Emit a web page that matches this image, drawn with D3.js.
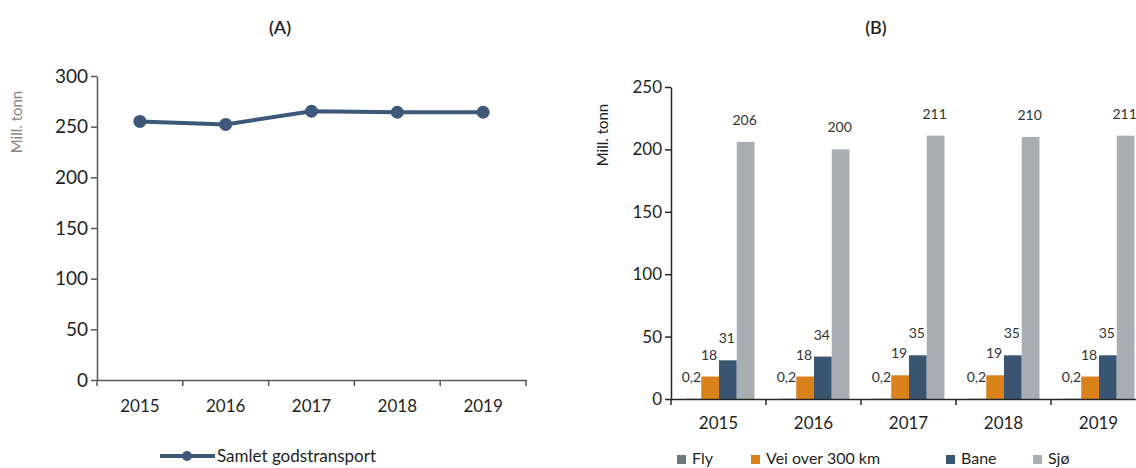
<!DOCTYPE html>
<html>
<head>
<meta charset="utf-8">
<script src="https://cdn.jsdelivr.net/npm/d3@7"></script>
<style>
  body { margin: 0; background: #fff; }
  svg { display: block; font-family: Lato, "Open Sans", sans-serif; }
</style>
</head>
<body>
<svg width="1136" height="468"></svg>
<script>
const years = ['2015', '2016', '2017', '2018', '2019'];

// panel A
const totalValues = [255.2, 252.2, 265.2, 264.2, 264.2];
const ticksA = [0, 50, 100, 150, 200, 250, 300];

// panel B
const seriesNames = ['Fly', 'Vei over 300 km', 'Bane', 'Sjø'];
const flyValues = [0.2, 0.2, 0.2, 0.2, 0.2];
const veiValues = [18, 18, 19, 19, 18];
const baneValues = [31, 34, 35, 35, 35];
const sjoValues = [206, 200, 211, 210, 211];
const ticksB = [0, 50, 100, 150, 200, 250];

const seriesColors = ['#6f767d', '#d9821c', '#3a5572', '#a9aeb4'];
const lineColor = '#3d5878';
const textColor = '#1f1f1f';

const svg = d3.select('svg');

const nb = d3.formatLocale({ decimal: ',', thousands: ' ', grouping: [3], currency: ['', ' kr'] });
const fmtVal = (v) => Number.isInteger(v) ? String(v) : nb.format('.1f')(v);

// ---------- panel A ----------
let xA = d3.scaleBand().domain(years).range([97, 526]);
let yA = d3.scaleLinear().domain([0, 300]).range([380, 76]);

svg.append('text')
  .attr('x', 280).attr('y', 34)
  .attr('text-anchor', 'middle')
  .attr('font-size', 18)
  .attr('font-weight', 600)
  .attr('fill', textColor)
  .text('(A)');

let yAxisA = svg.append('g')
  .attr('transform', 'translate(97,0)')
  .call(d3.axisLeft(yA).tickValues(ticksA).tickSize(6).tickSizeOuter(0));

let xAxisA = svg.append('g')
  .attr('transform', 'translate(0,380)')
  .call(d3.axisBottom(xA).tickSize(0).tickPadding(20));

// tick marks between categories
svg.append('g')
  .selectAll('line')
  .data(years.concat(['end']))
  .enter()
  .append('line')
  .attr('x1', (d, i) => i < years.length ? xA(d) : xA.range()[1])
  .attr('x2', (d, i) => i < years.length ? xA(d) : xA.range()[1])
  .attr('y1', 380).attr('y2', 386)
  .attr('stroke', '#595959').attr('stroke-width', 1.5);

svg.append('text')
  .attr('transform', 'translate(22,122) rotate(-90)')
  .attr('text-anchor', 'middle')
  .attr('font-size', 15)
  .attr('fill', '#8c8682')
  .text('Mill. tonn');

let line = d3.line()
  .x((d, i) => xA(years[i]) + xA.bandwidth() / 2)
  .y((d) => yA(d));

svg.append('path')
  .datum(totalValues)
  .attr('d', line)
  .attr('fill', 'none')
  .attr('stroke', lineColor)
  .attr('stroke-width', 4);

svg.append('g')
  .selectAll('circle')
  .data(totalValues)
  .enter()
  .append('circle')
  .attr('cx', (d, i) => xA(years[i]) + xA.bandwidth() / 2)
  .attr('cy', (d) => yA(d))
  .attr('r', 6.5)
  .attr('fill', lineColor);

// legend A
let legA = svg.append('g').attr('transform', 'translate(160,456)');
legA.append('line').attr('x1', 0).attr('x2', 55).attr('y1', 0).attr('y2', 0)
  .attr('stroke', lineColor).attr('stroke-width', 4);
legA.append('circle').attr('cx', 27).attr('cy', 0).attr('r', 5).attr('fill', lineColor);
legA.append('text').attr('x', 57).attr('y', 6)
  .attr('font-size', 17).attr('fill', textColor)
  .text('Samlet godstransport');

// ---------- panel B ----------
const seriesData = [flyValues, veiValues, baneValues, sjoValues];

let xB = d3.scaleBand().domain(years).range([671, 671 + 5 * 95]);
let xInner = d3.scaleBand().domain(seriesNames).range([12.5, 83.5]);
let yB = d3.scaleLinear().domain([0, 250]).range([399, 87]);

svg.append('text')
  .attr('x', 876).attr('y', 34)
  .attr('text-anchor', 'middle')
  .attr('font-size', 18)
  .attr('font-weight', 600)
  .attr('fill', textColor)
  .text('(B)');

svg.append('text')
  .attr('transform', 'translate(608,135) rotate(-90)')
  .attr('text-anchor', 'middle')
  .attr('font-size', 15)
  .attr('fill', textColor)
  .text('Mill. tonn');

let groups = svg.append('g')
  .selectAll('g')
  .data(seriesData)
  .enter()
  .append('g')
  .attr('fill', (d, i) => seriesColors[i]);

groups.each(function (vals, si) {
  d3.select(this)
    .selectAll('rect')
    .data(vals)
    .enter()
    .append('rect')
    .attr('x', (d, i) => xB(years[i]) + xInner(seriesNames[si]))
    .attr('y', (d) => yB(d))
    .attr('width', xInner.bandwidth())
    .attr('height', (d) => yB(0) - yB(d));
});

let yAxisB = svg.append('g')
  .attr('transform', 'translate(671,0)')
  .call(d3.axisLeft(yB).tickValues(ticksB).tickSize(6).tickSizeOuter(0));

let xAxisB = svg.append('g')
  .attr('transform', 'translate(0,399)')
  .call(d3.axisBottom(xB).tickSize(0).tickPadding(18));

svg.append('g')
  .selectAll('line')
  .data(years)
  .enter()
  .append('line')
  .attr('x1', (d) => xB(d))
  .attr('x2', (d) => xB(d))
  .attr('y1', 399).attr('y2', 405)
  .attr('stroke', '#262626').attr('stroke-width', 1.5);

// value labels
seriesData.forEach((vals, si) => {
  svg.append('g')
    .selectAll('text')
    .data(vals)
    .enter()
    .append('text')
    .attr('x', (d, i) => xB(years[i]) + xInner(seriesNames[si]) + xInner.bandwidth() / 2 - 1)
    .attr('y', (d) => yB(d) - 17)
    .attr('text-anchor', 'middle')
    .attr('font-size', 14)
    .attr('fill', '#333')
    .text((d) => fmtVal(d));
});

// legend B
const legX = [677, 751, 946, 1033];
let legB = svg.append('g')
  .selectAll('g')
  .data(seriesNames)
  .enter()
  .append('g')
  .attr('transform', (d, i) => `translate(${legX[i]},455)`);
legB.append('rect').attr('width', 9).attr('height', 9)
  .attr('fill', (d, i) => seriesColors[i]);
legB.append('text').attr('x', 15).attr('y', 9)
  .attr('font-size', 16).attr('fill', textColor)
  .text((d) => d);

// axis styling
[yAxisA, xAxisA, yAxisB, xAxisB].forEach((ax) => {
  ax.selectAll('text').attr('font-size', 17).attr('fill', textColor).attr('font-family', 'Lato, sans-serif');
  ax.select('.domain').attr('stroke', '#595959').attr('stroke-width', 1.5);
  ax.selectAll('.tick line').attr('stroke', '#595959').attr('stroke-width', 1.5);
});
[yAxisB, xAxisB].forEach((ax) => {
  ax.select('.domain').attr('stroke', '#262626');
  ax.selectAll('.tick line').attr('stroke', '#262626');
});
yAxisA.selectAll('text').attr('font-size', 19);
</script>
</body>
</html>
